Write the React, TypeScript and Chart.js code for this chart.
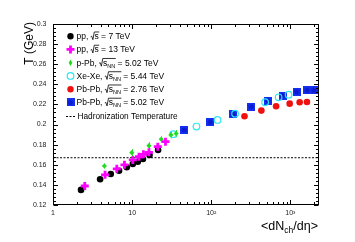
import React, { useEffect, useRef } from "react";
import { Chart, registerables } from "chart.js";

Chart.register(...registerables);

// ---------- data ----------
const pp7X = [2.26, 3.94, 5.37, 6.84, 8.56, 10.2, 11.8, 13.7, 16.6, 21.3];
const pp7T = [0.135, 0.1456, 0.1508, 0.154, 0.1575, 0.1608, 0.163, 0.1658, 0.1697, 0.1747];

const pp13X = [2.52, 4.55, 6.4, 8.0, 10.2, 12.2, 13.9, 16.3, 21.1, 26.4];
const pp13T = [0.1389, 0.150, 0.156, 0.160, 0.1648, 0.168, 0.1704, 0.1724, 0.178, 0.183];

const pPbX = [4.46, 9.9, 16.3, 23.3, 30.9, 36];
const pPbT = [0.1588, 0.172, 0.179, 0.1854, 0.1897, 0.191];
const pPbErr = [0.0025, 0.0035, 0.0035, 0.003, 0.0035, 0.0035];

const xeXeX = [33, 65, 120, 200, 480, 710, 950];
const xeXeT = [0.1904, 0.198, 0.2046, 0.2108, 0.2222, 0.2271, 0.2297];

const pbPb276X = [263, 430, 660, 980, 1310, 1620];
const pbPb276T = [0.2083, 0.2139, 0.2182, 0.2208, 0.2222, 0.2225];

const pbPb502X = [45.5, 97, 188, 321, 522, 800, 1200, 1630, 1970];
const pbPb502T = [0.1946, 0.2023, 0.2102, 0.2178, 0.2238, 0.2288, 0.2325, 0.2341, 0.2341];

const hadronizationT = 0.167;

const xMin = 1;
const xMax = 2300;
const yMin = 0.12;
const yMax = 0.3;
const yStep = 0.02;
const yMinorStep = 0.004;

const xTickLabels: Record<number, string> = { 1: "1", 10: "10", 100: "10\u00B2", 1000: "10\u00B3" };

const legendSystems = ["pp", "pp", "p-Pb", "Xe-Xe", "Pb-Pb", "Pb-Pb"];
const legendEnergies = ["7", "13", "5.02", "5.44", "2.76", "5.02"];
const legendNN = [false, false, true, true, true, true];
const legendKinds = ["black", "magenta", "green", "cyan", "red", "blue"];
const hadronLabel = "Hadronization Temperature";

const FONT = "'Liberation Sans', Arial, Helvetica, sans-serif";

const COLORS: Record<string, string> = {
  black: "#000000",
  magenta: "#ff00ff",
  green: "#1fdc1f",
  cyan: "#2ee6f0",
  red: "#f01010",
  blue: "#1530f2",
};

const SQ = 8;

function makeSquare(): HTMLCanvasElement {
  const c = document.createElement("canvas");
  c.width = SQ;
  c.height = SQ;
  const g = c.getContext("2d")!;
  g.fillStyle = COLORS.blue;
  g.fillRect(0, 0, SQ, SQ);
  g.fillStyle = "#0a1bd0";
  g.beginPath();
  g.arc(SQ / 2, SQ / 2, 2.6, 0, Math.PI * 2);
  g.fill();
  return c;
}

function drawMarker(ctx: CanvasRenderingContext2D, kind: string, x: number, y: number, sq: HTMLCanvasElement) {
  ctx.save();
  const col = COLORS[kind];
  if (kind === "black" || kind === "red") {
    ctx.fillStyle = col;
    ctx.beginPath();
    ctx.arc(x, y, 3.2, 0, Math.PI * 2);
    ctx.fill();
  } else if (kind === "magenta") {
    ctx.strokeStyle = col;
    ctx.lineWidth = 2.8;
    ctx.beginPath();
    ctx.moveTo(x - 4, y);
    ctx.lineTo(x + 4, y);
    ctx.moveTo(x, y - 4);
    ctx.lineTo(x, y + 4);
    ctx.stroke();
  } else if (kind === "green") {
    ctx.fillStyle = col;
    ctx.beginPath();
    ctx.moveTo(x, y - 3.2);
    ctx.lineTo(x + 1.8, y);
    ctx.lineTo(x, y + 3.2);
    ctx.lineTo(x - 1.8, y);
    ctx.closePath();
    ctx.fill();
  } else if (kind === "cyan") {
    ctx.strokeStyle = col;
    ctx.lineWidth = 1.2;
    ctx.beginPath();
    ctx.arc(x, y, 3.3, 0, Math.PI * 2);
    ctx.stroke();
  } else if (kind === "blue") {
    ctx.drawImage(sq, x - SQ / 2, y - SQ / 2);
  }
  ctx.restore();
}

function drawSqrtLabel(ctx: CanvasRenderingContext2D, x: number, y: number, sys: string, en: string, nn: boolean) {
  const fs = 8.5;
  ctx.save();
  ctx.fillStyle = "#000";
  ctx.textBaseline = "alphabetic";
  ctx.textAlign = "left";
  ctx.font = `${fs}px ${FONT}`;
  let cx = x;
  const first = sys + ", ";
  ctx.fillText(first, cx, y);
  cx += ctx.measureText(first).width;
  ctx.strokeStyle = "#000";
  ctx.lineWidth = 0.8;
  const top = y - fs * 0.85;
  ctx.beginPath();
  ctx.moveTo(cx, y - 2.5);
  ctx.lineTo(cx + 1, y - 3);
  ctx.lineTo(cx + 2.2, y + 0.5);
  ctx.lineTo(cx + 3.6, top);
  cx += 3.8;
  ctx.fillText("s", cx, y);
  cx += ctx.measureText("s").width;
  if (nn) {
    ctx.font = `${fs * 0.65}px ${FONT}`;
    ctx.fillText("NN", cx, y + 2);
    cx += ctx.measureText("NN").width;
    ctx.font = `${fs}px ${FONT}`;
  }
  ctx.lineTo(cx + 0.5, top);
  ctx.stroke();
  const rest = ` = ${en} TeV`;
  ctx.fillText(rest, cx, y);
  ctx.restore();
}

export default function App() {
  const ref = useRef<HTMLCanvasElement | null>(null);

  useEffect(() => {
    if (!ref.current) return;
    const sq = makeSquare();
    const toPts = (xs: number[], ys: number[]) => xs.map((x, i) => ({ x, y: ys[i] }));

    const framePlugin = {
      id: "rootFrame",
      beforeDatasetsDraw(chart: any) {
        const ctx: CanvasRenderingContext2D = chart.ctx;
        const xs = chart.scales.x;
        const ys = chart.scales.y;
        ctx.save();
        ctx.strokeStyle = COLORS.green;
        ctx.lineWidth = 1;
        pPbX.forEach((xv, i) => {
          const px = Math.round(xs.getPixelForValue(xv)) + 0.5;
          ctx.beginPath();
          ctx.moveTo(px, ys.getPixelForValue(pPbT[i] - pPbErr[i]));
          ctx.lineTo(px, ys.getPixelForValue(pPbT[i] + pPbErr[i]));
          ctx.stroke();
        });
        ctx.restore();
      },
      afterDraw(chart: any) {
        const ctx: CanvasRenderingContext2D = chart.ctx;
        const { left, right, top, bottom } = chart.chartArea;
        const xs = chart.scales.x;
        const ys = chart.scales.y;
        ctx.save();
        ctx.strokeStyle = "#000";
        ctx.lineWidth = 1;
        const L = Math.round(left) + 0.5;
        const R = Math.round(right) - 0.5;
        const T = Math.round(top) + 0.5;
        const B = Math.round(bottom) - 0.5;
        ctx.strokeRect(L, T, R - L, B - T);
        ctx.beginPath();
        const nMinor = Math.round((yMax - yMin) / yMinorStep);
        for (let i = 0; i <= nMinor; i++) {
          const v = yMin + i * yMinorStep;
          const isMajor = Math.abs(v / yStep - Math.round(v / yStep)) < 1e-6;
          const len = isMajor ? 4.5 : 2.5;
          const py = Math.round(ys.getPixelForValue(v)) + 0.5;
          ctx.moveTo(L, py);
          ctx.lineTo(L + len, py);
          ctx.moveTo(R, py);
          ctx.lineTo(R - len, py);
        }
        for (let d = 1; d <= 1000; d *= 10) {
          for (let m = 1; m <= 9; m++) {
            const v = d * m;
            if (v < xMin || v > xMax) continue;
            const len = m === 1 ? 4.5 : 2.5;
            const px = Math.round(xs.getPixelForValue(v)) + 0.5;
            ctx.moveTo(px, B);
            ctx.lineTo(px, B - len);
            ctx.moveTo(px, T);
            ctx.lineTo(px, T + len);
          }
        }
        ctx.stroke();

        // axis titles
        ctx.fillStyle = "#000";
        ctx.font = `12px ${FONT}`;
        ctx.save();
        ctx.translate(29.5, 22);
        ctx.rotate(-Math.PI / 2);
        ctx.textAlign = "right";
        ctx.textBaseline = "middle";
        ctx.fillText("T (GeV)", 0, 0);
        ctx.restore();

        ctx.textBaseline = "alphabetic";
        ctx.textAlign = "left";
        const p1 = "<dN";
        const sub = "ch";
        const p2 = "/d\u03B7>";
        ctx.font = `12.5px ${FONT}`;
        const w1 = ctx.measureText(p1).width;
        const w3 = ctx.measureText(p2).width;
        ctx.font = `8.5px ${FONT}`;
        const w2 = ctx.measureText(sub).width;
        let cx = 318 - (w1 + w2 + w3);
        const by = 229.5;
        ctx.font = `12.5px ${FONT}`;
        ctx.fillText(p1, cx, by);
        cx += w1;
        ctx.font = `8.5px ${FONT}`;
        ctx.fillText(sub, cx, by + 3);
        cx += w2;
        ctx.font = `12.5px ${FONT}`;
        ctx.fillText(p2, cx, by);

        // legend
        const mx = 70.5;
        const tx = 76.5;
        const y0 = 36.2;
        const dy = 13.25;
        legendKinds.forEach((k, i) => {
          const yy = y0 + i * dy;
          drawMarker(ctx, k, mx, yy, sq);
          drawSqrtLabel(ctx, tx, yy + 3, legendSystems[i], legendEnergies[i], legendNN[i]);
        });
        const yh = y0 + 6 * dy;
        ctx.strokeStyle = "#000";
        ctx.lineWidth = 1;
        ctx.setLineDash([2, 1.5]);
        ctx.beginPath();
        ctx.moveTo(66, Math.round(yh) + 0.5);
        ctx.lineTo(75, Math.round(yh) + 0.5);
        ctx.stroke();
        ctx.setLineDash([]);
        ctx.font = `8.3px ${FONT}`;
        ctx.fillText(hadronLabel, 77.5, yh + 3);
        ctx.restore();
      },
    };

    const chart = new Chart(ref.current, {
      type: "scatter",
      data: {
        datasets: [
          {
            label: "Hadronization Temperature",
            type: "line",
            data: [
              { x: xMin, y: hadronizationT },
              { x: xMax, y: hadronizationT },
            ],
            borderColor: "#000",
            borderWidth: 1,
            borderDash: [2, 1.5],
            pointRadius: 0,
            order: 10,
          } as any,
          {
            label: "pp 13",
            data: toPts(pp13X, pp13T),
            pointStyle: "cross",
            pointRadius: 4,
            borderWidth: 2.8,
            borderColor: COLORS.magenta,
            backgroundColor: COLORS.magenta,
            order: 0,
          },
          {
            label: "pp 7",
            data: toPts(pp7X, pp7T),
            pointStyle: "circle",
            pointRadius: 3.3,
            borderWidth: 0,
            backgroundColor: COLORS.black,
            order: 1,
          },
          {
            label: "p-Pb",
            data: toPts(pPbX, pPbT),
            pointStyle: "rectRot",
            pointRadius: 2.6,
            borderWidth: 0,
            backgroundColor: COLORS.green,
            order: 2,
          },
          {
            label: "Pb-Pb 2.76",
            data: toPts(pbPb276X, pbPb276T),
            pointStyle: "circle",
            pointRadius: 3.3,
            borderWidth: 0,
            backgroundColor: COLORS.red,
            order: 3,
          },
          {
            label: "Xe-Xe",
            data: toPts(xeXeX, xeXeT),
            pointStyle: "circle",
            pointRadius: 3.3,
            borderWidth: 1.2,
            borderColor: COLORS.cyan,
            backgroundColor: "rgba(0,0,0,0)",
            order: 4,
          },
          {
            label: "Pb-Pb 5.02",
            data: toPts(pbPb502X, pbPb502T),
            pointStyle: sq as any,
            pointRadius: 4,
            order: 5,
          },
        ],
      },
      options: {
        animation: false,
        responsive: true,
        maintainAspectRatio: false,
        events: [],
        layout: { padding: { left: 0, right: 36, top: 24, bottom: 0 } },
        plugins: { legend: { display: false }, tooltip: { enabled: false }, title: { display: false } },
        scales: {
          x: {
            type: "logarithmic",
            min: xMin,
            max: xMax,
            grid: { display: false, drawTicks: false },
            border: { display: false },
            ticks: {
              autoSkip: false,
              maxRotation: 0,
              padding: 4,
              color: "#222",
              font: { size: 7, family: FONT },
              callback: (v: any) => {
                const n = Number(v);
                return xTickLabels[n] !== undefined ? xTickLabels[n] : "";
              },
            },
            afterFit: (s: any) => {
              s.height = 37;
            },
          },
          y: {
            type: "linear",
            min: yMin,
            max: yMax,
            grid: { display: false, drawTicks: false },
            border: { display: false },
            ticks: {
              stepSize: yStep,
              padding: 6.5,
              color: "#222",
              font: { size: 7, family: FONT },
              callback: (v: any) => String(Number(Number(v).toFixed(2))),
            },
            afterFit: (s: any) => {
              s.width = 53;
            },
          },
        },
      },
      plugins: [framePlugin],
    });
    return () => chart.destroy();
  }, []);

  return (
    <div style={{ position: "absolute", left: 0, top: 0, width: 355, height: 242, background: "#fff" }}>
      <canvas ref={ref} />
    </div>
  );
}
